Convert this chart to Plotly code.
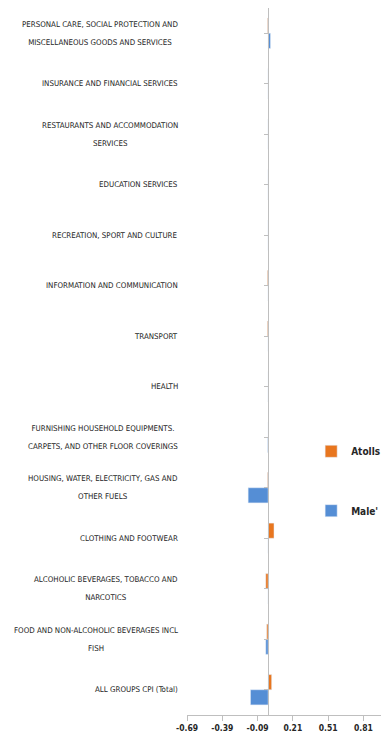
import plotly.graph_objects as go

categories = [
    "ALL GROUPS CPI (Total)",
    "FOOD AND NON-ALCOHOLIC BEVERAGES INCL\nFISH",
    "ALCOHOLIC BEVERAGES, TOBACCO AND\nNARCOTICS",
    "CLOTHING AND FOOTWEAR",
    "HOUSING, WATER, ELECTRICITY, GAS AND\nOTHER FUELS",
    "FURNISHING HOUSEHOLD EQUIPMENTS.\nCARPETS, AND OTHER FLOOR COVERINGS",
    "HEALTH",
    "TRANSPORT",
    "INFORMATION AND COMMUNICATION",
    "RECREATION, SPORT AND CULTURE",
    "EDUCATION SERVICES",
    "RESTAURANTS AND ACCOMMODATION\nSERVICES",
    "INSURANCE AND FINANCIAL SERVICES",
    "PERSONAL CARE, SOCIAL PROTECTION AND\nMISCELLANEOUS GOODS AND SERVICES",
]
male_values = [-0.15, -0.02, 0.0, 0.0, -0.17, -0.003, 0.0, 0.0, 0.0, 0.0, 0.0, 0.0, 0.0, 0.02]
atolls_values = [0.03, -0.012, -0.02, 0.05, -0.005, 0.002, 0.003, -0.006, -0.006, 0.0, 0.0, 0.0, 0.0, -0.005]
tick_values = [-0.69, -0.39, -0.09, 0.21, 0.51, 0.81]
tick_labels = ["-0.69", "-0.39", "-0.09", "0.21", "0.51", "0.81"]

x_range = [-0.69, 0.96]
FONT = "DejaVu Sans Condensed, Liberation Sans, sans-serif"
BLUE = "#558ED5"
ORANGE = "#E8761F"

fig = go.Figure()
fig.add_trace(go.Bar(y=list(range(len(categories))), x=male_values, orientation="h",
                     name="Male'", marker_color=BLUE, legend="legend2"))
fig.add_trace(go.Bar(y=list(range(len(categories))), x=atolls_values, orientation="h",
                     name="Atolls", marker_color=ORANGE, legend="legend"))


def label_html(c):
    return "<br>".join("<span style='font-size:7.9px'>%s</span>" % ln for ln in c.split("\n"))


for i, c in enumerate(categories):
    fig.add_annotation(x=-0.036, xref="paper", y=i, yref="y", text=label_html(c),
                       xanchor="right", yanchor="middle", align="center",
                       showarrow=False, font=dict(family=FONT, size=13.5, color="#262626"))

zero_pos = (0 - x_range[0]) / (x_range[1] - x_range[0])

legend_font = dict(family=FONT, size=10, color="#262626", weight="bold")
fig.update_layout(
    width=381, height=736,
    margin=dict(l=187, r=0, t=8, b=21, autoexpand=False),
    paper_bgcolor="white", plot_bgcolor="white",
    barmode="group", bargap=0.4, bargroupgap=0,
    font=dict(family=FONT, size=10, color="#262626"),
    xaxis=dict(range=x_range, tickvals=tick_values, ticktext=tick_labels,
               showgrid=False, zeroline=False, showline=True, linecolor="#BFBFBF",
               ticks="outside", ticklen=5, tickcolor="#BFBFBF",
               tickfont=dict(family=FONT, size=8.5, color="#262626", weight="bold")),
    yaxis=dict(range=[-0.5, len(categories) - 0.5], tickvals=list(range(len(categories))),
               showticklabels=False, showgrid=False, zeroline=False,
               showline=True, linecolor="#BFBFBF", linewidth=1,
               ticks="outside", ticklen=4, tickcolor="#BFBFBF", tickson="boundaries",
               anchor="free", position=zero_pos),
    legend=dict(x=0.64, y=0.373, xanchor="left", yanchor="middle",
                font=legend_font, bgcolor="rgba(0,0,0,0)", itemwidth=30),
    legend2=dict(x=0.64, y=0.289, xanchor="left", yanchor="middle",
                 font=legend_font, bgcolor="rgba(0,0,0,0)", itemwidth=30),
    showlegend=True,
)

fig.write_html("out.html")
